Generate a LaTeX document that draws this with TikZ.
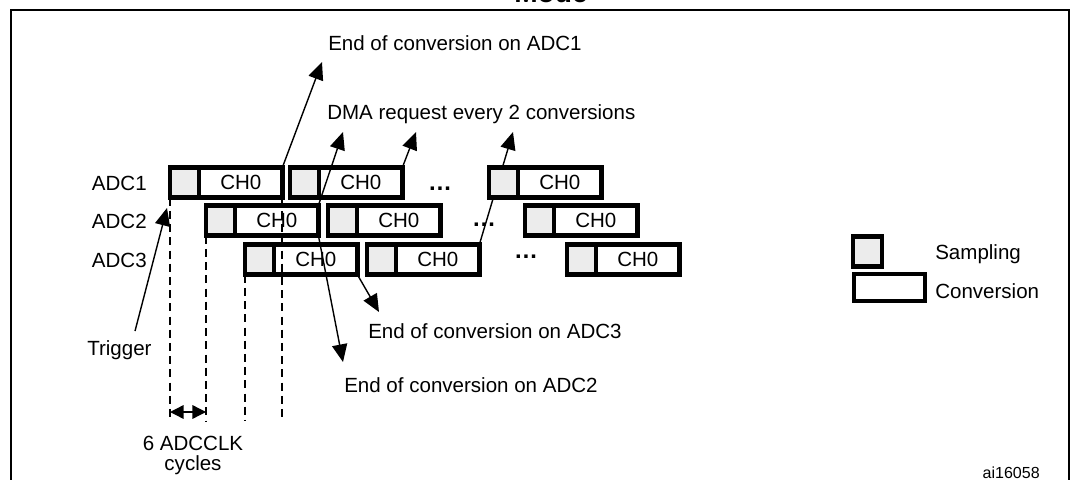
\documentclass[tikz,border=0pt]{standalone}
\usepackage{fontspec}
\setmainfont{Liberation Sans}
\usetikzlibrary{positioning,arrows.meta}

\tikzset{
  samp/.style={draw, line width=3.2pt, fill=gray!15, minimum width=0.73cm,
    minimum height=0.76cm, inner sep=0pt, outer sep=0pt},
  conv/.style={draw, line width=3.2pt, fill=white, minimum width=2.08cm,
    minimum height=0.76cm, inner sep=0pt, outer sep=0pt},
  arr/.style={line width=1pt, -{Triangle[length=0.44cm, width=0.38cm]}},
  dbl/.style={line width=1pt,
    {Triangle[length=0.34cm, width=0.34cm]}-{Triangle[length=0.34cm, width=0.34cm]}},
  vline/.style={line width=1.4pt, dash pattern=on 0.2cm off 0.13cm},
  lbl/.style={inner sep=0pt},
  more/.style={inner sep=0pt, font=\bfseries\fontsize{17}{20}\selectfont},
}
% one sampling + conversion slot
\newcommand{\adcSlot}[3]{
\node[samp, anchor=west] (#1s) at (#2,#3) {};
\node[conv, right=0pt of #1s] (#1) {CH0};
}

\begin{document}
\begin{tikzpicture}[x=0.025cm, y=-0.025cm, font=\fontsize{14.6}{17}\selectfont]
	\useasboundingbox (0,0) rectangle (1080,480);
	\draw[line width=1.4pt] (11,10) rectangle (1069,520);
	\node[anchor=base, font=\bfseries\fontsize{20}{24}\selectfont] (title) at (551,3) {Mode};

	\adcSlot{a21}{206}{220.5}
	\adcSlot{a22}{328}{220.5}
	\adcSlot{a23}{525}{220.5}
	\adcSlot{a31}{245}{259.5}
	\adcSlot{a32}{367}{259.5}
	\adcSlot{a33}{567}{259.5}
	\adcSlot{a11}{170}{182.5}
	\adcSlot{a12}{290}{182.5}

	% this one runs behind the last ADC1 slot
	\coordinate (dmaC) at (513,132);
	\draw[arr] (a32.north east) -- (dmaC);
	\adcSlot{a13}{489}{182.5}

	\node[lbl, anchor=base east] (adc1) at (147,190) {ADC1};
	\node[lbl, anchor=base east] (adc2) at (147,228) {ADC2};
	\node[lbl, anchor=base east] (adc3) at (147,267) {ADC3};

	\node[more] (dots1) at (440,189) {\dots};
	\node[more] (dots2) at (484,225) {\dots};
	\node[more] (dots3) at (526,257) {\dots};

	% time marks
	\coordinate (base) at (0,421);
	\draw[vline] (a11s.south west) -- (a11s.south west |- base);
	\draw[vline] (a21s.south west) -- (a21s.south west |- base);
	\draw[vline] (a31s.south west) -- (a31s.south west |- base);
	\draw[vline] (a11.south east) -- (a11.south east |- base);

	\coordinate (clk) at (0,412);
	\draw[dbl] (a11s.west |- clk) -- (a21s.west |- clk);
	\node[lbl, anchor=north, align=center, font=\fontsize{14.6}{14.2}\selectfont]
		(cycles) at (193,435.5) {6 ADCCLK\\cycles};

	% labels and arrows
	\node[lbl, anchor=base west] (eoc1) at (328,50.5) {End of conversion on ADC1};
	\node[lbl, anchor=base west] (dma) at (327,119.5) {DMA request every 2 conversions};
	\node[lbl, anchor=base west] (eoc3) at (368,338.5) {End of conversion on ADC3};
	\node[lbl, anchor=base west] (eoc2) at (344,392.5) {End of conversion on ADC2};
	\node[lbl, anchor=base west] (trig) at (87,355) {Trigger};

	\coordinate (eocA) at (322,62);
	\coordinate (dmaA) at (343,132);
	\coordinate (dmaB) at (416,132);
	\coordinate (eocB) at (343,362);
	\coordinate (eocC) at (379,312);
	\coordinate (trigT) at (167,208);

	\draw[arr] (a11.north east) -- (eocA);
	\draw[arr] (a21.north east) -- (dmaA);
	\draw[arr] (a12.north east) -- (dmaB);
	\draw[arr] (a21.south east) -- (eocB);
	\draw[arr] (a31.south east) -- (eocC);
	\draw[arr] ([xshift=1.2cm, yshift=0.22cm]trig.north west) -- (trigT);

	% legend
	\node[samp] (legSamp) at (867.5,251.5) {};
	\node[conv, minimum width=1.78cm, minimum height=0.68cm] (legConv) at (889.5,287.5) {};
	\node[lbl, anchor=base west] (sampTxt) at (935,259) {Sampling};
	\node[lbl, anchor=base west] (convTxt) at (935,298) {Conversion};

	\node[lbl, anchor=base east, font=\fontsize{11.4}{13}\selectfont] (ref) at (1040,478) {ai16058};
\end{tikzpicture}
\end{document}
